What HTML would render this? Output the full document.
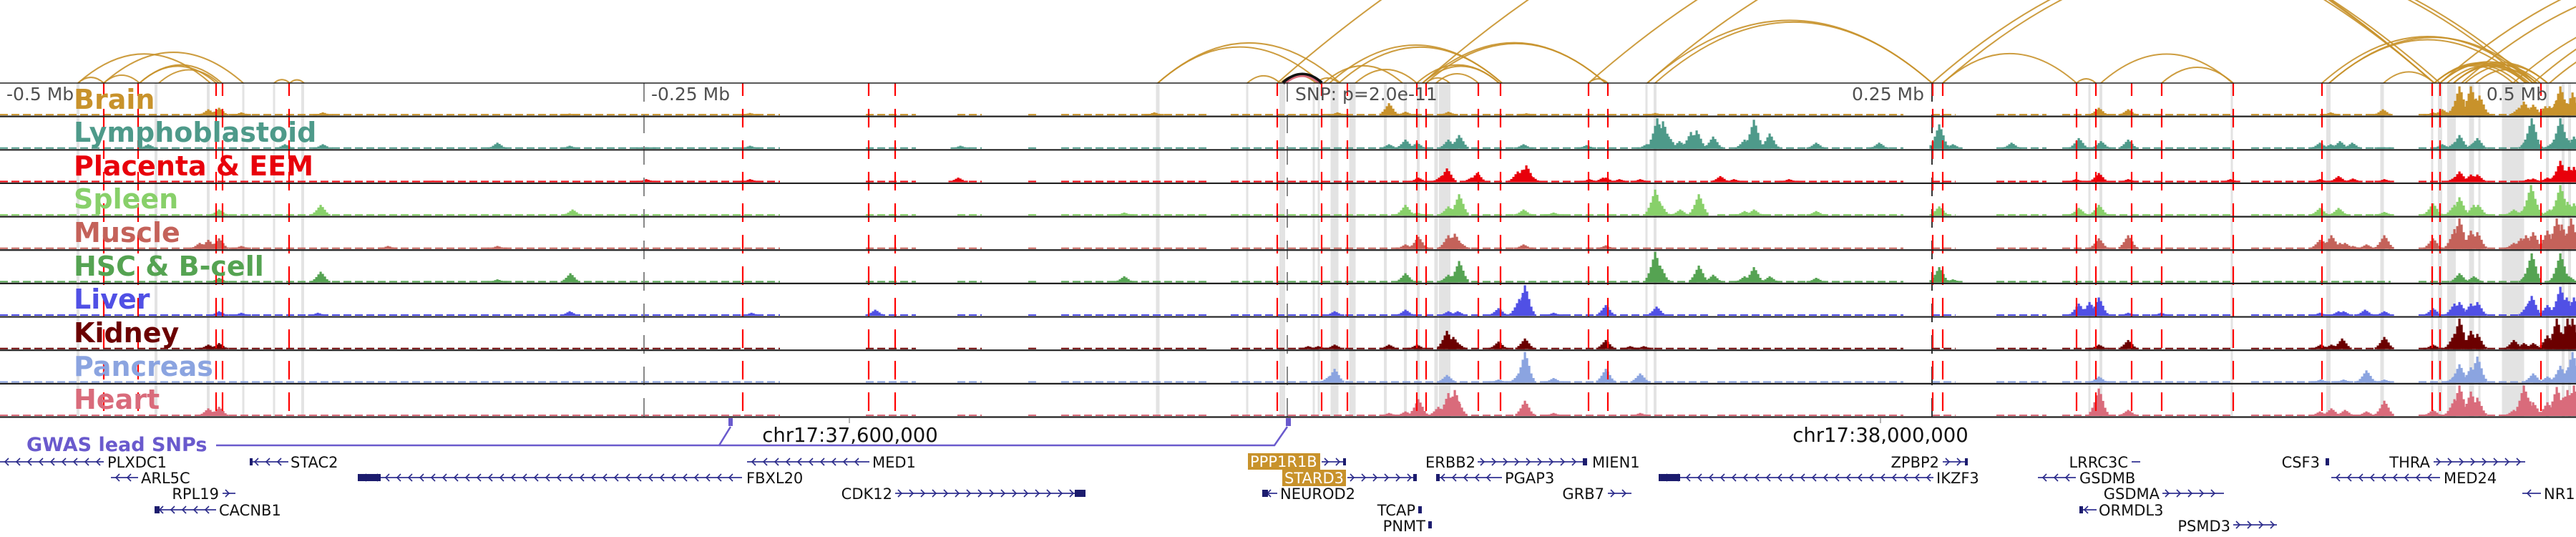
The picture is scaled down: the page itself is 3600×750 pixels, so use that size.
<!DOCTYPE html>
<html>
<head>
<meta charset="utf-8">
<style>
html,body{margin:0;padding:0;background:#fff;}
svg{display:block;}
.tl{font-family:"DejaVu Sans","Liberation Sans",sans-serif;font-weight:bold;font-size:38px;}
.tick{font-family:"DejaVu Sans","Liberation Sans",sans-serif;font-size:25px;fill:#505050;}
.gn{font-family:"DejaVu Sans","Liberation Sans",sans-serif;font-size:21px;fill:#111;}
.coord{font-family:"DejaVu Sans","Liberation Sans",sans-serif;font-size:27.5px;fill:#111;}
</style>
</head>
<body>
<svg id="chart" width="3600" height="750" viewBox="0 0 3600 750" xmlns="http://www.w3.org/2000/svg">
  <rect x="0" y="0" width="3600" height="750" fill="#fff"/>
  <g id="bands"></g>
  <g id="arcs" fill="none"></g>
  <g id="signals"></g>
  <g id="vlines"></g>
  <g id="borders"></g>
  <g id="labels">
    <text class="tl" x="103" y="152" fill="#c8922b">Brain</text>
    <text class="tl" x="103" y="198" fill="#4e9a8a">Lymphoblastoid</text>
    <text class="tl" x="103" y="245" fill="#e8000b">Placenta &amp; EEM</text>
    <text class="tl" x="103" y="291" fill="#88d06a">Spleen</text>
    <text class="tl" x="103" y="338" fill="#c4625a">Muscle</text>
    <text class="tl" x="103" y="385" fill="#55a352">HSC &amp; B-cell</text>
    <text class="tl" x="103" y="431" fill="#5050e5">Liver</text>
    <text class="tl" x="103" y="478" fill="#6b0000">Kidney</text>
    <text class="tl" x="103" y="525" fill="#8ba4e0">Pancreas</text>
    <text class="tl" x="103" y="571" fill="#d96b7b">Heart</text>
  </g>
  <g>
    <text class="tick" x="9" y="140">-0.5 Mb</text>
    <text class="tick" x="910" y="140">-0.25 Mb</text>
    <text class="tick" x="1810" y="140">SNP: p=2.0e-11</text>
    <text class="tick" x="2689" y="140" text-anchor="end">0.25 Mb</text>
    <text class="tick" x="3560" y="140" text-anchor="end">0.5 Mb</text>
  </g>
  <g>
    <line x1="1187" y1="584" x2="1187" y2="591" stroke="#666" stroke-width="1"/>
    <line x1="2628" y1="584" x2="2628" y2="591" stroke="#666" stroke-width="1"/>
    <text class="coord" x="1188" y="617" text-anchor="middle">chr17:37,600,000</text>
    <text class="coord" x="2628" y="617" text-anchor="middle">chr17:38,000,000</text>
  </g>
  <g>
    <text x="37" y="630" font-family="DejaVu Sans, Liberation Sans, sans-serif" font-weight="bold" font-size="27" fill="#6a5acd">GWAS lead SNPs</text>
    <polyline points="302,622 1005,622 1021,596" fill="none" stroke="#6a5acd" stroke-width="2.5"/>
    <polyline points="1005,622 1781,622 1799,596" fill="none" stroke="#6a5acd" stroke-width="2.5"/>
    <rect x="1018" y="584" width="6" height="11" fill="#6a5acd"/>
    <rect x="1797" y="584" width="7" height="11" fill="#6a5acd"/>
  </g>
  <g id="genes">
    <rect x="1744" y="633" width="101" height="23" fill="#c8922b"/>
    <rect x="1792" y="656" width="89" height="23" fill="#c8922b"/>
    <text class="gn" x="150" y="653">PLXDC1</text>
    <text class="gn" x="406" y="653">STAC2</text>
    <text class="gn" x="1219" y="653">MED1</text>
    <text class="gn" x="1747" y="652" style="fill:#fff">PPP1R1B</text>
    <text class="gn" x="2062" y="653" text-anchor="end">ERBB2</text>
    <text class="gn" x="2225" y="653">MIEN1</text>
    <text class="gn" x="2710" y="653" text-anchor="end">ZPBP2</text>
    <text class="gn" x="2974" y="653" text-anchor="end">LRRC3C</text>
    <text class="gn" x="3242" y="653" text-anchor="end">CSF3</text>
    <text class="gn" x="3396" y="653" text-anchor="end">THRA</text>

    <text class="gn" x="197" y="675">ARL5C</text>
    <text class="gn" x="1043" y="675">FBXL20</text>
    <text class="gn" x="1795" y="675" style="fill:#fff">STARD3</text>
    <text class="gn" x="2103" y="675">PGAP3</text>
    <text class="gn" x="2706" y="675">IKZF3</text>
    <text class="gn" x="2906" y="675">GSDMB</text>
    <text class="gn" x="3415" y="675">MED24</text>

    <text class="gn" x="306" y="697" text-anchor="end">RPL19</text>
    <text class="gn" x="1247" y="697" text-anchor="end">CDK12</text>
    <text class="gn" x="1789" y="697">NEUROD2</text>
    <text class="gn" x="2242" y="697" text-anchor="end">GRB7</text>
    <text class="gn" x="3018" y="697" text-anchor="end">GSDMA</text>
    <text class="gn" x="3555" y="697">NR1D1</text>

    <text class="gn" x="306" y="720">CACNB1</text>
    <text class="gn" x="1978" y="720" text-anchor="end">TCAP</text>
    <text class="gn" x="2933" y="720">ORMDL3</text>

    <text class="gn" x="1992" y="742" text-anchor="end">PNMT</text>
    <text class="gn" x="3117" y="742" text-anchor="end">PSMD3</text>
  </g>
</svg>
<script>
// ---- data (positions in bins: 3600 bins across the 1 Mb window) ----
const trackNames = ["Brain","Lymphoblastoid","Placenta & EEM","Spleen","Muscle","HSC & B-cell","Liver","Kidney","Pancreas","Heart"];
const trackColors = ["#c8922b","#4e9a8a","#e8000b","#88d06a","#c4625a","#55a352","#5050e5","#6b0000","#8ba4e0","#d96b7b"];

const brainPos = [291,306,337,451,796,1048,1613,1869,1941,1964,2024,2133,2313,2933,2974,3257,3330,3400,3413,3430,3437,3453,3460,3465,3470,3520,3527,3533,3540,3557,3563,3573,3578,3587,3595];
const brainVal = [.2,.25,.1,.1,.06,.08,.1,.1,.4,.12,.12,.07,.08,.25,.2,.1,.2,.1,.2,.3,.95,.95,.55,.65,.15,.25,.45,.25,.35,.3,.3,.5,.95,.4,.75];
const lymphPos = [207,398,451,695,796,903,1048,1342,1941,1964,1980,2024,2039,2129,2217,2301,2316,2324,2332,2347,2363,2371,2394,2438,2446,2451,2473,2538,2626,2710,2729,2811,2905,2936,2974,3242,3257,3270,3287,3332,3413,3430,3437,3457,3462,3533,3538,3540,3567,3578,3587,3597];
const lymphVal = [.15,.15,.15,.2,.1,.05,.1,.1,.15,.3,.2,.3,.45,.15,.12,.15,1,.9,.4,.25,.55,.6,.4,.3,.3,.95,.5,.2,.2,.8,.15,.2,.35,.25,.3,.2,.15,.25,.2,.05,.15,.2,.45,.2,.35,.4,1,.5,.2,1,.35,.4];
const placentaPos = [605,903,1048,1339,1982,2014,2022,2056,2064,2121,2127,2133,2140,2221,2240,2244,2263,2292,2404,2423,2500,2901,2933,2974,3117,3242,3268,3288,3332,3430,3437,3453,3462,3533,3540,3560,3573,3578,3583,3590,3597];
const placentaVal = [.05,.1,.1,.15,.15,.2,.45,.15,.3,.35,.4,.55,.2,.1,.15,.15,.1,.1,.2,.1,.1,.1,.3,.1,.1,.1,.2,.12,.1,.15,.35,.25,.25,.1,.12,.15,.3,.7,.35,.5,.5];
const spleenPos = [306,448,800,1571,1964,1980,2024,2033,2039,2129,2171,2313,2320,2348,2374,2438,2451,2538,2710,2905,2933,3242,3268,3332,3400,3430,3437,3457,3463,3513,3527,3537,3540,3563,3573,3578,3588,3597];
const spleenVal = [.2,.35,.2,.1,.35,.1,.3,.25,.7,.2,.1,.85,.4,.2,.7,.15,.2,.15,.3,.25,.35,.25,.25,.12,.4,.35,.6,.35,.35,.2,.2,1,.65,.2,.4,1,.45,.4];
const musclePos = [279,291,306,337,542,695,1964,1982,2024,2033,2041,2129,2244,2933,2974,3242,3247,3258,3270,3277,3288,3307,3332,3400,3430,3437,3453,3462,3513,3523,3530,3540,3560,3567,3573,3580,3587,3593];
const muscleVal = [.2,.3,.35,.1,.1,.1,.15,.4,.45,.5,.2,.15,.12,.35,.45,.3,.25,.45,.2,.2,.1,.15,.45,.35,.65,1,.6,.55,.2,.35,.45,.55,.6,.3,1,.8,.5,1];
const hscPos = [306,448,695,797,1571,1964,2024,2039,2313,2320,2374,2394,2438,2451,2473,2538,2710,2729,3437,3457,3533,3538,3573,3578,3590];
const hscVal = [.15,.35,.1,.3,.2,.3,.25,.7,1,.55,.55,.25,.2,.5,.2,.15,.5,.1,.3,.2,.35,.95,.25,.95,.2];
const liverPos = [306,337,444,796,1050,1223,1865,1964,2024,2037,2094,2123,2127,2131,2171,2244,2315,2905,2920,2933,2974,3020,3242,3268,3275,3305,3332,3400,3430,3437,3453,3462,3533,3538,3560,3578,3587,3597];
const liverVal = [.15,.1,.1,.15,.1,.2,.15,.2,.15,.15,.25,.55,.6,1,.1,.35,.3,.4,.45,.6,.1,.1,.1,.15,.15,.2,.15,.25,.4,.45,.4,.45,.4,.65,.35,.95,.6,.6];
const kidneyPos = [291,306,1828,1842,1865,1941,1980,2022,2031,2037,2094,2131,2244,2278,2297,2933,2974,3243,3258,3273,3332,3400,3430,3437,3453,3462,3513,3527,3540,3560,3563,3573,3582,3588,3595];
const kidneyVal = [.15,.2,.1,.1,.15,.15,.15,.6,.4,.2,.25,.35,.3,.1,.1,.15,.3,.15,.15,.35,.4,.15,.5,1,.6,.5,.3,.2,.2,.45,.3,1,.3,1,1];
const pancPos = [1857,1865,2022,2094,2123,2131,2171,2244,2292,2933,3243,3275,3307,3332,3430,3437,3453,3462,3540,3560,3578,3587,3595];
const pancVal = [.2,.45,.25,.1,.3,1,.15,.45,.3,.2,.1,.1,.4,.1,.2,.6,.5,.85,.3,.2,.55,.4,1];
const heartPos = [291,306,1941,1964,1982,2010,2024,2033,2037,2131,2171,2292,2933,2974,3242,3258,3277,3307,3332,3400,3430,3437,3453,3462,3513,3527,3533,3540,3560,3573,3582,3588,3597];
const heartVal = [.25,.3,.1,.15,.55,.3,.75,.85,.5,.5,.1,.1,.9,.2,.15,.25,.2,.15,.5,.2,.55,1,.8,.6,.2,1,.6,.45,.45,.95,.6,.85,1];

const coverageStart = [0,1210,1338,1437,1483,1720,2400,2700,2790,2882,3146,3380];
const coverageEnd = [1090,1280,1372,1452,1690,2390,2660,2733,2860,3120,3341,3600];

const arcStart = [109,145,195,195,222,109,145,383,405,1618,1618,1743,1789,1839,1850,1858,1871,1894,1980,1988,1993,2007,1988,1993,2220,2302,2313,1785,1988,2220,2302,2700,2715,2715,2902,2936,3021,3245,3255,3331,3402,3402,3410,3429,3429,3460,3410,3440,3512,3540,3563,3255,3420,3445,3402,3410,3429];
const arcEnd   = [294,340,302,310,306,145,195,405,425,1847,1873,1789,1839,1871,1960,2099,2099,1980,2095,2095,2026,2066,2244,2244,2247,2700,2700,3402,3402,3410,3402,3540,3532,2902,2929,3120,3121,3540,3545,3402,3512,3530,3545,3540,3560,3545,4200,4100,4000,4100,3900,3530,3530,3560,3520,3535,3550];

const bandPos = [109,218,291,340,383,423,1618,1743,1792,1836,1843,1865,1890,1936,1964,1982,2007,2019,2301,2313,2920,2936,3119,3254,3329,3399,3410,3426,3454,3465,3512,3560,3582,3591];
const bandWid = [4,4,4,3,3,4,5,3,8,3,3,11,9,4,4,4,5,16,3,4,3,4,3,6,5,3,6,12,7,3,31,4,4,4];

const redLinePos = [145,193,302,311,404,1038,1214,1251,1785,1847,1883,1980,1993,2066,2097,2220,2247,2701,2715,2902,2929,2979,3021,3121,3245,3399,3410,3551];
const grayLinePos = [900,1799,2700];

// ---- geometry ----
const W = 3600, TOP = 116, ROWH = 46.65, NT = 10;
const xs = b => b * W / 3600;
const rowBase = i => TOP + (i + 1) * ROWH - 1.5;
const hs = v => v * (ROWH - 4);
const NS = "http://www.w3.org/2000/svg";
function mk(tag, attrs, parent) {
  const e = document.createElementNS(NS, tag);
  for (const k in attrs) e.setAttribute(k, attrs[k]);
  parent.appendChild(e);
  return e;
}

// bands
const gB = document.getElementById("bands");
bandPos.forEach((p, i) => {
  const r = mk("rect", {x: xs(p) - bandWid[i] / 2, y: TOP, width: bandWid[i], height: NT * ROWH, fill: "#e3e3e3"}, gB);
  
  
});

// arcs
const gA = document.getElementById("arcs");
arcStart.forEach((s, i) => {
  const e = arcEnd[i];
  const x1 = xs(s), x2 = xs(e), span = x2 - x1;
  const cy = TOP - 2 * 0.22 * span;
  const p = mk("path", {d: `M${x1},${TOP} Q${(x1 + x2) / 2},${cy} ${x2},${TOP}`, stroke: "#c8922b", "stroke-width": 2, "stroke-opacity": 0.9}, gA);
  
  
});
{
  const x1 = xs(1793), x2 = xs(1847), sp = x2 - x1;
  const p1 = mk("path", {d: `M${x1},${TOP} Q${(x1 + x2) / 2},${TOP - 0.44 * sp} ${x2},${TOP}`, stroke: "#111", "stroke-width": 5, fill: "none"}, gA);
  
  
  const p2 = mk("path", {d: `M${x1 + 4},${TOP} Q${(x1 + x2) / 2},${TOP - 0.36 * sp} ${x2 - 4},${TOP}`, stroke: "#d96b7b", "stroke-width": 2.5, fill: "none"}, gA);
  
  
}

// signals
const allPos = [brainPos, lymphPos, placentaPos, spleenPos, musclePos, hscPos, liverPos, kidneyPos, pancPos, heartPos];
const allVal = [brainVal, lymphVal, placentaVal, spleenVal, muscleVal, hscVal, liverVal, kidneyVal, pancVal, heartVal];
const spreadOff = [-12, -9, -6, -3, 0, 3, 6, 9, 12];
const spreadFac = [.15, .3, .5, .75, 1, .8, .55, .3, .15];
const gS = document.getElementById("signals");
for (let t = 0; t < NT; t++) {
  const g = mk("g", {fill: trackColors[t]}, gS);
  
  
  const base = rowBase(t);
  coverageStart.forEach((s, i) => {
    const ln = mk("line", {x1: xs(s), x2: xs(coverageEnd[i]), y1: base - 1, y2: base - 1, stroke: trackColors[t], "stroke-width": 2, "stroke-dasharray": "11 5"}, g);
    
    
  });
  allPos[t].forEach((p, i) => {
    const H = hs(allVal[t][i]);
    spreadOff.forEach((o, k) => {
      const h = Math.max(2, H * spreadFac[k]);
      const r = mk("rect", {x: xs(p) + o - 1.5, y: base - h, width: 3.2, height: h}, g);
      
      
    });
  });
}

// vertical lines
const gV = document.getElementById("vlines");
grayLinePos.forEach(p => {
  const l = mk("line", {x1: xs(p), x2: xs(p), y1: TOP, y2: TOP + NT * ROWH, stroke: p === 2700 ? "#333" : "#888", "stroke-width": 2, "stroke-dasharray": "26 18"}, gV);
  
  
});
redLinePos.forEach(p => {
  const l = mk("line", {x1: xs(p), x2: xs(p), y1: TOP, y2: TOP + NT * ROWH, stroke: "#ff0000", "stroke-width": 2.2, "stroke-dasharray": "26 18", "stroke-dashoffset": 8}, gV);
  
  
});

// borders
const gBo = document.getElementById("borders");
for (let i = 0; i <= NT; i++) {
  const y = TOP + i * ROWH;
  const l = mk("line", {x1: 0, x2: W, y1: y, y2: y, stroke: "#222", "stroke-width": i === 0 ? 1.5 : 2.2}, gBo);
  
  
}

// gene models
const geneX1 = [0,349,1044,1847,2065,2715,2979,3401,155,500,1883,2007,2318,2848,3258,311,1251,1764,2247,3022,3525,216,2906,3121];
const geneX2 = [145,403,1215,1881,2218,2750,2991,3529,193,1037,1980,2099,2702,2901,3410,329,1517,1785,2280,3108,3551,302,2930,3182];
const geneRow = [645,645,645,645,645,645,645,645,667,667,667,667,667,667,667,689,689,689,689,689,689,712,712,733];
const geneStrand = [-1,-1,-1,1,1,1,1,1,-1,-1,1,-1,-1,-1,-1,1,1,-1,1,1,-1,-1,-1,1];
const geneBlock1 = [null,349,null,1877,2212,2746,null,null,null,500,1975,2007,2318,null,null,null,1502,1764,null,null,null,216,2906,null];
const geneBlock2 = [null,353,null,1881,2218,2750,null,null,null,532,1980,2012,2348,null,null,null,1517,1772,null,null,null,223,2911,null];
const gG = document.getElementById("genes");
geneX1.forEach((a, i) => {
  const b = geneX2[i], y = geneRow[i];
  const l = mk("line", {x1: a, x2: b, y1: y, y2: y, stroke: "#4b4ba0", "stroke-width": 2}, gG);
  
  
  for (let x = a + 8; x < b - 4; x += 16) {
    const d = geneStrand[i] > 0 ? `M${x - 4},${y - 5} L${x + 1},${y} L${x - 4},${y + 5}` : `M${x + 4},${y - 5} L${x - 1},${y} L${x + 4},${y + 5}`;
    const c = mk("path", {d: d, stroke: "#2a2a88", "stroke-width": 1.6, fill: "none"}, gG);
    
    
  }
  if (geneBlock1[i] !== null) {
    const r = mk("rect", {x: geneBlock1[i], y: y - 5, width: geneBlock2[i] - geneBlock1[i], height: 10, fill: "#1c1c6e"}, gG);
    
    
  }
});
const markX = [3250, 1982, 1996];
const markY = [645, 712, 733];
markX.forEach((x, i) => {
  const r = mk("rect", {x: x, y: markY[i] - 5, width: 5, height: 10, fill: "#1c1c6e"}, gG);
  
  
});
</script>
</body>
</html>
